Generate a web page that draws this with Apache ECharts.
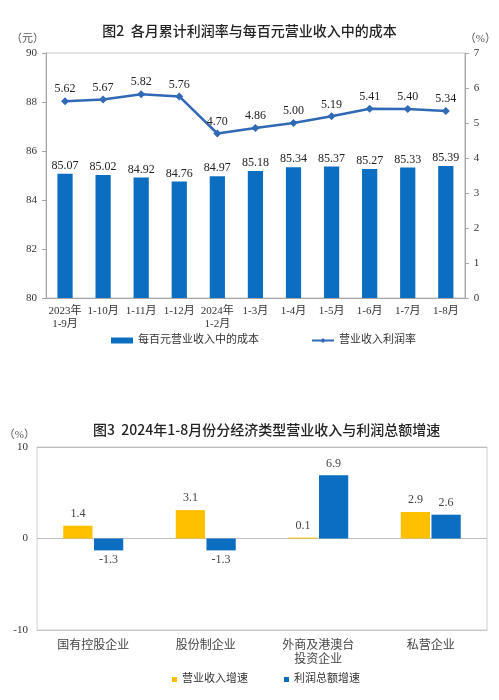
<!DOCTYPE html>
<html>
<head>
<meta charset="utf-8">
<script src="https://cdn.jsdelivr.net/npm/echarts@6/dist/echarts.min.js"></script>
<style>
html, body { margin: 0; padding: 0; background: #fff; }
#main { width: 499px; height: 700px; }
</style>
</head>
<body>
<div id="main"></div>
<script>
// 图2 数据
var monthCats = ['2023年\n1-9月', '1-10月', '1-11月', '1-12月', '2024年\n1-2月', '1-3月', '1-4月', '1-5月', '1-6月', '1-7月', '1-8月'];
var costPer100 = [85.07, 85.02, 84.92, 84.76, 84.97, 85.18, 85.34, 85.37, 85.27, 85.33, 85.39];
var profitRate = [5.62, 5.67, 5.82, 5.76, 4.70, 4.86, 5.00, 5.19, 5.41, 5.40, 5.34];

// 图3 数据
var typeCats = ['国有控股企业', '股份制企业', '外商及港澳台\n投资企业', '私营企业'];
var revenueGrowth = [1.4, 3.1, 0.1, 2.9];
var profitGrowth = [-1.3, -1.3, 6.9, 2.6];

var serif = 'Liberation Serif, Noto Sans CJK SC';
var sans = 'Noto Sans CJK SC';
var blue = '#0B6EC1';
var gold = '#FFC000';
var lineBlue = '#3069B5';

// 负数标签放到柱子下面
function signedData(arr) {
	var list = [];
	for (var i = 0; i < arr.length; i++) {
		if (arr[i] < 0) {
			list.push({ value: arr[i], label: { position: 'bottom', distance: 3 } });
		} else {
			list.push({ value: arr[i], label: { position: 'top' } });
		}
	}
	return list;
}

var myChart = echarts.init(document.getElementById('main'));

var option = {
	animation: false,
	backgroundColor: '#fff',
	title: [
		{
			text: '图2  各月累计利润率与每百元营业收入中的成本',
			left: 'center',
			top: 19,
			textStyle: { fontFamily: sans, fontSize: 14, fontWeight: 500, color: '#222' }
		},
		{
			text: '图3  2024年1-8月份分经济类型营业收入与利润总额增速',
			left: 88,
			top: 418,
			textStyle: { fontFamily: sans, fontSize: 14, fontWeight: 500, color: '#222' }
		}
	],
	legend: [
		{
			left: 106,
			top: 330,
			itemGap: 52,
			itemWidth: 22,
			itemHeight: 6,
			textStyle: { fontFamily: serif, fontSize: 11, color: '#333' },
			data: [{ name: '每百元营业收入中的成本', icon: 'rect' }, { name: '营业收入利润率' }]
		},
		{
			left: 167,
			top: 669,
			itemGap: 36,
			itemWidth: 5,
			itemHeight: 5,
			icon: 'rect',
			textStyle: { fontFamily: serif, fontSize: 11, color: '#333' },
			data: ['营业收入增速', '利润总额增速']
		}
	],
	grid: [
		{ left: 46, top: 53, width: 421, height: 245, show: true, borderColor: '#C8C8C8', borderWidth: 1 },
		{ left: 37, top: 447, width: 450, height: 183, show: true, borderColor: '#D0D0D0', borderWidth: 1 }
	],
	xAxis: [
		{
			gridIndex: 0,
			type: 'category',
			data: monthCats,
			axisLine: { lineStyle: { color: '#A6A6A6' } },
			axisTick: { inside: true, length: 3, lineStyle: { color: '#A6A6A6' } },
			axisLabel: { fontFamily: serif, fontSize: 11, color: '#333', margin: 7, lineHeight: 13, interval: 0 }
		},
		{
			gridIndex: 1,
			type: 'category',
			data: typeCats,
			axisLine: { onZero: false, lineStyle: { color: '#C8C8C8' } },
			axisTick: { show: false },
			axisLabel: { fontFamily: serif, fontSize: 12, color: '#444', margin: 9, lineHeight: 14, interval: 0 }
		}
	],
	yAxis: [
		{
			gridIndex: 0,
			type: 'value',
			min: 80,
			max: 90,
			interval: 2,
			name: '（元）',
			nameLocation: 'end',
			nameGap: 8,
			nameTextStyle: { fontFamily: serif, fontSize: 11, color: '#555', align: 'right', padding: [0, 2, 0, 0] },
			axisLine: { show: true, lineStyle: { color: '#A6A6A6' } },
			axisTick: { show: true, length: 4, lineStyle: { color: '#A6A6A6' } },
			axisLabel: { fontFamily: serif, fontSize: 11, color: '#333', margin: 9 },
			splitLine: { show: false }
		},
		{
			gridIndex: 0,
			type: 'value',
			position: 'right',
			min: 0,
			max: 7,
			interval: 1,
			name: '（%）',
			nameLocation: 'end',
			nameGap: 8,
			nameTextStyle: { fontFamily: serif, fontSize: 11, color: '#555', align: 'left' },
			axisLine: { show: true, lineStyle: { color: '#A6A6A6' } },
			axisTick: { show: true, length: 4, lineStyle: { color: '#A6A6A6' } },
			axisLabel: { fontFamily: serif, fontSize: 11, color: '#333', margin: 9 },
			splitLine: { show: false }
		},
		{
			gridIndex: 1,
			type: 'value',
			min: -10,
			max: 10,
			interval: 10,
			name: '（%）',
			nameLocation: 'end',
			nameGap: 6,
			nameTextStyle: { fontFamily: serif, fontSize: 11, color: '#555', align: 'right', padding: [0, 2, 0, 0] },
			axisLine: { show: false },
			axisTick: { show: false },
			axisLabel: { fontFamily: serif, fontSize: 11, color: '#333', margin: 9 },
			splitLine: { show: true, lineStyle: { color: '#BDBDBD' } }
		}
	],
	series: [
		{
			name: '每百元营业收入中的成本',
			type: 'bar',
			xAxisIndex: 0,
			yAxisIndex: 0,
			barWidth: '40%',
			itemStyle: { color: blue },
			label: {
				show: true,
				position: 'top',
				distance: 2,
				fontFamily: serif,
				fontSize: 12,
				color: '#222',
				formatter: function (p) { return p.value.toFixed(2); }
			},
			data: costPer100
		},
		{
			name: '营业收入利润率',
			type: 'line',
			xAxisIndex: 0,
			yAxisIndex: 1,
			symbol: 'diamond',
			symbolSize: 8,
			lineStyle: { color: lineBlue, width: 2.5 },
			itemStyle: { color: lineBlue },
			label: {
				show: true,
				position: 'top',
				distance: 2,
				fontFamily: serif,
				fontSize: 12,
				color: '#222',
				formatter: function (p) { return p.value.toFixed(2); }
			},
			data: profitRate
		},
		{
			name: '营业收入增速',
			type: 'bar',
			xAxisIndex: 1,
			yAxisIndex: 2,
			barWidth: '26%',
			barGap: '5%',
			itemStyle: { color: gold },
			label: { show: true, distance: 6, fontFamily: serif, fontSize: 12, color: '#444',
				formatter: function (p) { return p.value.toFixed(1); } },
			data: signedData(revenueGrowth)
		},
		{
			name: '利润总额增速',
			type: 'bar',
			xAxisIndex: 1,
			yAxisIndex: 2,
			barWidth: '26%',
			barGap: '5%',
			itemStyle: { color: blue },
			label: { show: true, distance: 6, fontFamily: serif, fontSize: 12, color: '#444',
				formatter: function (p) { return p.value.toFixed(1); } },
			data: signedData(profitGrowth)
		}
	]
};

myChart.setOption(option);
</script>
</body>
</html>
